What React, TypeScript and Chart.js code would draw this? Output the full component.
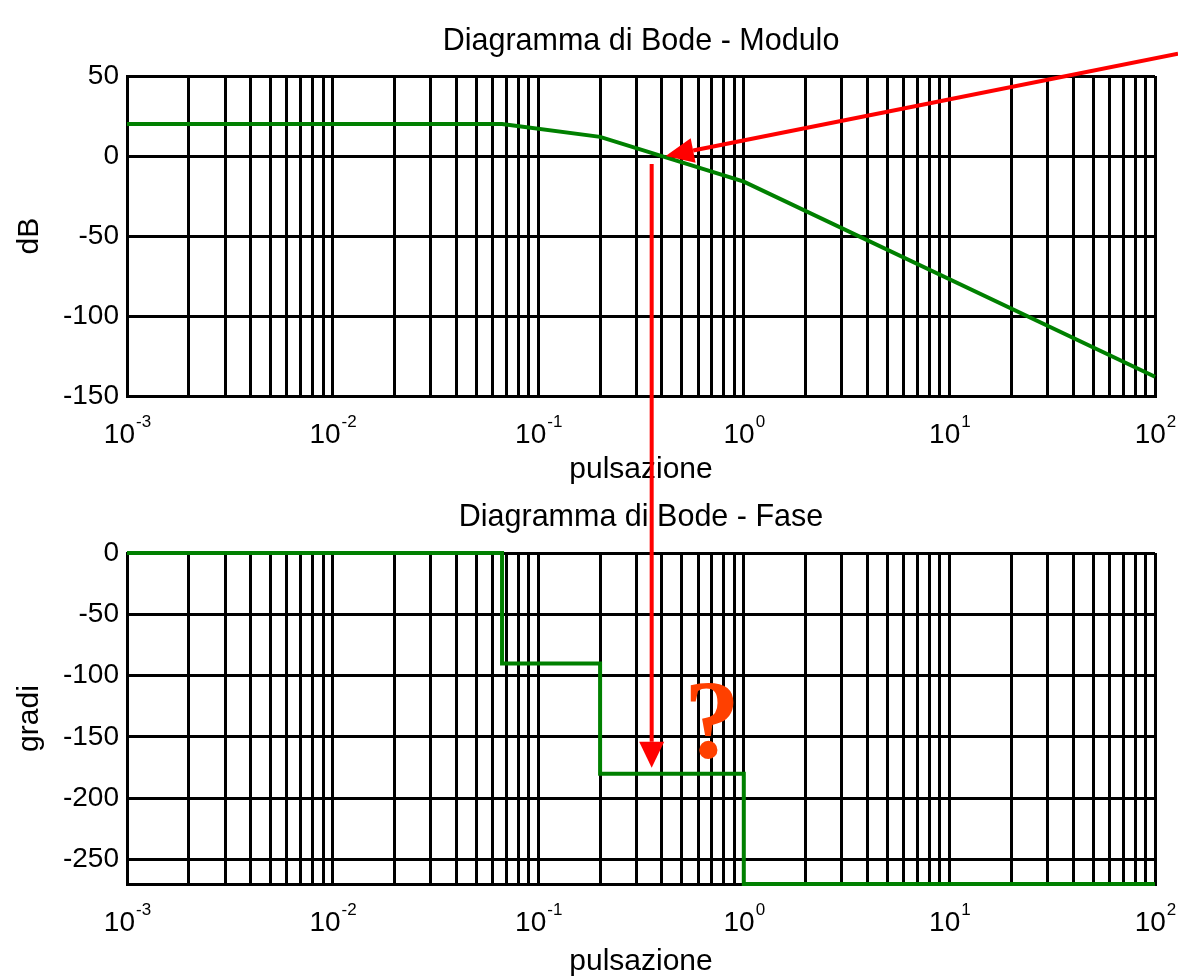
import React, { useEffect, useRef } from 'react';
import { Chart, registerables } from 'chart.js';

Chart.register(...registerables);

const FONT = "'Liberation Sans', Arial, Helvetica, sans-serif";

// Asymptotic breakpoints of the open-loop response (rad/s)
const breakFreqs = [0.001, 0.0667, 0.2, 1, 100];
// Asymptotic magnitude at each breakpoint (dB)
const magnitudeDb = [20, 20, 12, -16, -138];
// Asymptotic phase at each breakpoint (degrees), held until the next breakpoint
const phaseDeg = [0, -90, -180, -270, -270];

// Decades shown on the frequency axis (labelled 10^n)
const decadeExponents = [-3, -2, -1, 0, 1, 2];
// Grid multipliers inside each decade
const gridMultipliers = [1, 2, 3, 4, 5, 6, 7, 8, 9];
// Value axis ticks
const magTicks = [50, 0, -50, -100, -150];
const phaseTicks = [0, -50, -100, -150, -200, -250];

const freqGrid: number[] = [];
decadeExponents.slice(0, -1).forEach((e) => {
  gridMultipliers.forEach((m) => freqGrid.push(Number((m * Math.pow(10, e)).toPrecision(12))));
});
freqGrid.push(Math.pow(10, decadeExponents[decadeExponents.length - 1]));

const TOP_H = 489;
const BOTTOM_H = 488;
const WIDTH = 1178;

const decadeLabels = {
  id: 'decadeLabels',
  afterDraw(chart: any) {
    const { ctx, chartArea } = chart;
    const xs = chart.scales.x;
    const base = chartArea.bottom + 47;
    ctx.save();
    ctx.fillStyle = '#000';
    ctx.textAlign = 'left';
    ctx.textBaseline = 'alphabetic';
    decadeExponents.forEach((e) => {
      const x = xs.getPixelForValue(Math.pow(10, e));
      ctx.font = `28px ${FONT}`;
      const w1 = ctx.measureText('10').width;
      ctx.font = `17px ${FONT}`;
      const w2 = ctx.measureText(String(e)).width;
      const x0 = x - (w1 + w2) / 2;
      ctx.font = `28px ${FONT}`;
      ctx.fillText('10', x0, base);
      ctx.font = `17px ${FONT}`;
      ctx.fillText(String(e), x0 + w1 + 1, base - 16);
    });
    ctx.restore();
  },
};

function makeConfig(
  title: string,
  yTitle: string,
  yMin: number,
  yMax: number,
  yTicks: number[],
  values: number[],
  stepped: boolean,
  titlePad: { top: number; bottom: number },
  xTitleBottom: number
): any {
  return {
    type: 'line',
    data: {
      datasets: [
        {
          data: breakFreqs.map((f, i) => ({ x: f, y: values[i] })),
          borderColor: '#008000',
          borderWidth: 4,
          pointRadius: 0,
          fill: false,
          tension: 0,
          clip: 3,
          stepped: stepped ? 'before' : false,
        },
      ],
    },
    options: {
      responsive: false,
      animation: false,
      devicePixelRatio: 1,
      layout: { padding: { left: 0, right: 23, top: 0, bottom: 0 } },
      plugins: {
        legend: { display: false },
        tooltip: { enabled: false },
        title: {
          display: true,
          text: title,
          color: '#000',
          fullSize: false,
          font: { family: FONT, size: 30.5, weight: 'normal', lineHeight: 1.2 },
          padding: titlePad,
        },
      },
      scales: {
        x: {
          type: 'logarithmic',
          min: 0.001,
          max: 100,
          afterBuildTicks: (s: any) => {
            s.ticks = freqGrid.map((v) => ({ value: v }));
          },
          afterFit: (s: any) => {
            s.height = 93;
          },
          ticks: { display: false, autoSkip: false },
          grid: { color: '#000', lineWidth: 3, drawTicks: false },
          border: { color: '#000', width: 3 },
          title: {
            display: true,
            text: 'pulsazione',
            color: '#000',
            font: { family: FONT, size: 30, lineHeight: 1 },
            padding: { top: 0, bottom: xTitleBottom },
          },
        },
        y: {
          type: 'linear',
          min: yMin,
          max: yMax,
          afterBuildTicks: (s: any) => {
            s.ticks = yTicks.map((v) => ({ value: v }));
          },
          afterFit: (s: any) => {
            s.width = 127;
          },
          ticks: { color: '#000', font: { family: FONT, size: 28 }, padding: 8 },
          grid: { color: '#000', lineWidth: 3, drawTicks: false },
          border: { color: '#000', width: 3 },
          title: {
            display: true,
            text: yTitle,
            color: '#000',
            font: { family: FONT, size: 30, lineHeight: 1 },
            padding: { top: 15, bottom: 0 },
          },
        },
      },
    },
    plugins: [decadeLabels],
  };
}

function drawArrow(ctx: CanvasRenderingContext2D, x0: number, y0: number, x1: number, y1: number, len: number, half: number) {
  const a = Math.atan2(y1 - y0, x1 - x0);
  const bx = x1 - len * Math.cos(a);
  const by = y1 - len * Math.sin(a);
  ctx.beginPath();
  ctx.moveTo(x0, y0);
  ctx.lineTo(bx, by);
  ctx.stroke();
  ctx.beginPath();
  ctx.moveTo(x1, y1);
  ctx.lineTo(bx + half * Math.sin(a), by - half * Math.cos(a));
  ctx.lineTo(bx - half * Math.sin(a), by + half * Math.cos(a));
  ctx.closePath();
  ctx.fill();
}

// Frequency at which the asymptotic magnitude crosses 0 dB
function crossoverFreq(): number {
  for (let i = 0; i < breakFreqs.length - 1; i++) {
    const a = magnitudeDb[i];
    const b = magnitudeDb[i + 1];
    if (a >= 0 && b < 0) {
      const t = a / (a - b);
      const la = Math.log10(breakFreqs[i]);
      const lb = Math.log10(breakFreqs[i + 1]);
      return Math.pow(10, la + t * (lb - la));
    }
  }
  return 1;
}

export default function App() {
  const topRef = useRef<HTMLCanvasElement>(null);
  const bottomRef = useRef<HTMLCanvasElement>(null);
  const overlayRef = useRef<HTMLCanvasElement>(null);

  useEffect(() => {
    const top = new Chart(
      topRef.current!,
      makeConfig('Diagramma di Bode - Modulo', 'dB', -150, 50, magTicks, magnitudeDb, false, { top: 23.5, bottom: 16 }, 4)
    );
    const bottom = new Chart(
      bottomRef.current!,
      makeConfig('Diagramma di Bode - Fase', 'gradi', -270, 0, phaseTicks, phaseDeg, true, { top: 10.5, bottom: 17 }, 0)
    );

    const ov = overlayRef.current!;
    const ctx = ov.getContext('2d')!;
    ctx.clearRect(0, 0, ov.width, ov.height);

    const wc = crossoverFreq();
    const cx = top.scales.x.getPixelForValue(wc);
    const cy = top.scales.y.getPixelForValue(0);

    ctx.strokeStyle = '#ff0000';
    ctx.fillStyle = '#ff0000';
    ctx.lineWidth = 4;

    // Pointer to the crossover frequency on the magnitude plot
    const tipX = cx + 4;
    drawArrow(ctx, WIDTH, cy - 0.2 * (WIDTH - tipX), tipX, cy, 28, 12.5);

    // Projection of the crossover down to the phase plot
    const vx = cx - 10;
    const vTip = TOP_H + bottom.scales.y.getPixelForValue(-180) - 6;
    drawArrow(ctx, vx, cy + 8, vx, vTip, 26, 12.5);

    // Question mark next to the phase at crossover
    ctx.fillStyle = '#ff4000';
    ctx.font = "bold 112px 'Liberation Serif', 'Times New Roman', serif";
    ctx.textAlign = 'center';
    ctx.textBaseline = 'alphabetic';
    ctx.fillText('?', bottom.scales.x.getPixelForValue(0.7), TOP_H + bottom.scales.y.getPixelForValue(-166));

    return () => {
      top.destroy();
      bottom.destroy();
    };
  }, []);

  return (
    <div style={{ position: 'fixed', left: 0, top: 0, width: WIDTH, height: TOP_H + BOTTOM_H, background: '#fff' }}>
      <canvas ref={topRef} width={WIDTH} height={TOP_H} style={{ position: 'absolute', left: 0, top: 0 }} />
      <canvas ref={bottomRef} width={WIDTH} height={BOTTOM_H} style={{ position: 'absolute', left: 0, top: TOP_H }} />
      <canvas
        ref={overlayRef}
        width={WIDTH}
        height={TOP_H + BOTTOM_H}
        style={{ position: 'absolute', left: 0, top: 0, pointerEvents: 'none' }}
      />
    </div>
  );
}
